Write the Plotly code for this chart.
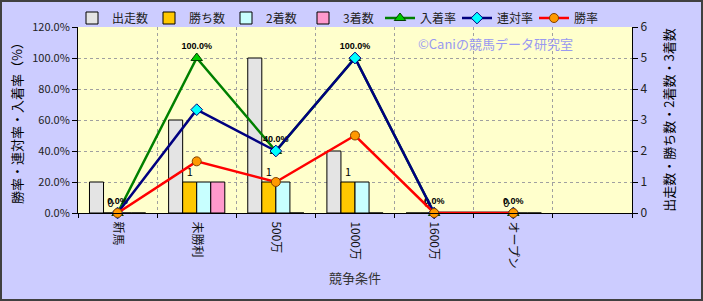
import plotly.graph_objects as go

categories = ["新馬", "未勝利", "500万", "1000万", "1600万", "オープン", ""]
starts = [1, 3, 5, 2, 0, 0, None]
wins = [0, 1, 1, 1, 0, 0, None]
seconds = [0, 1, 1, 1, 0, 0, None]
thirds = [0, 1, 0, 0, 0, 0, None]
place_rate = [0.0, 1.0, 0.4, 1.0, 0.0, 0.0, None]
quinella_rate = [0.0, 2/3, 0.4, 1.0, 0.0, 0.0, None]
win_rate = [0.0, 1/3, 0.2, 0.5, 0.0, 0.0, None]

xpos = list(range(len(categories)))
FONT = "Noto Sans CJK JP"

bar_line = dict(color="#000000", width=1)
fig = go.Figure()
fig.add_trace(go.Bar(name="出走数", x=xpos, y=starts, yaxis="y",
                     marker=dict(color="#E4E4E4", line=bar_line)))
fig.add_trace(go.Bar(name="勝ち数", x=xpos, y=wins, yaxis="y",
                     marker=dict(color="#FFC800", line=bar_line),
                     text=[None if v is None else str(v) for v in wins],
                     textposition="outside", cliponaxis=False,
                     textfont=dict(size=11, color="#000000", family=FONT)))
fig.add_trace(go.Bar(name="2着数", x=xpos, y=seconds, yaxis="y",
                     marker=dict(color="#C8FFFF", line=bar_line)))
fig.add_trace(go.Bar(name="3着数", x=xpos, y=thirds, yaxis="y",
                     marker=dict(color="#FF99CC", line=bar_line)))

fig.add_trace(go.Scatter(name="入着率", x=xpos, y=place_rate, yaxis="y2",
                         mode="lines+markers+text",
                         line=dict(color="#008000", width=2.5),
                         marker=dict(symbol="triangle-up", size=10, color="#00CC00",
                                     line=dict(color="#004000", width=1)),
                         texttemplate="%{y:.1%}", textposition="top center",
                         textfont=dict(size=9, color="#000000", family="Liberation Sans",
                                       weight="bold"),
                         cliponaxis=False))
fig.add_trace(go.Scatter(name="連対率", x=xpos, y=quinella_rate, yaxis="y2",
                         mode="lines+markers",
                         line=dict(color="#000080", width=2.5),
                         marker=dict(symbol="diamond", size=9, color="#00FFFF",
                                     line=dict(color="#000080", width=1)),
                         cliponaxis=False))
fig.add_trace(go.Scatter(name="勝率", x=xpos, y=win_rate, yaxis="y2",
                         mode="lines+markers",
                         line=dict(color="#FF0000", width=2.5),
                         marker=dict(symbol="circle", size=9, color="#FF9900",
                                     line=dict(color="#804000", width=1)),
                         cliponaxis=False))

fig.update_layout(
    width=703, height=301,
    margin=dict(l=78, r=71, t=27, b=88, autoexpand=False),
    paper_bgcolor="#CCCCFF", plot_bgcolor="#FFFFCC",
    font=dict(family=FONT, size=11, color="#222222"),
    barmode="group", bargap=0.29, bargroupgap=0,
    showlegend=True,
    legend=dict(orientation="h", xref="container", yref="container",
                x=72/703, y=1-18/301, xanchor="left", yanchor="middle",
                font=dict(size=12, color="#222222", family=FONT),
                bgcolor="rgba(0,0,0,0)", itemwidth=30, tracegroupgap=0,
                entrywidth=32, entrywidthmode="pixels"),
    xaxis=dict(range=[-0.5, 6.5], tickmode="array", tickvals=xpos[:6],
               ticktext=categories[:6], tickangle=90, showgrid=False,
               showline=True, linecolor="#000000", linewidth=1,
               ticks="", zeroline=False, ticklabelstandoff=5,
               tickfont=dict(size=12, color="#111111"),
               minor=dict(tick0=0.5, dtick=1, showgrid=True, gridcolor="#A0A0A0",
                          griddash="dot", gridwidth=1, ticks="outside",
                          ticklen=4, tickcolor="#000000"),
               title=dict(text="競争条件", standoff=6,
                          font=dict(size=13, color="#333333"))),
    yaxis=dict(side="right", range=[0, 6], dtick=1, showgrid=True,
               gridcolor="#A0A0A0", griddash="dot", gridwidth=1,
               showline=True, linecolor="#000000", linewidth=1,
               ticks="outside", ticklen=5, tickcolor="#000000", zeroline=False,
               tickfont=dict(size=12, color="#222222"),
               title=dict(text="出走数・勝ち数・2着数・3着数", standoff=18,
                          font=dict(size=13, color="#000000"))),
    yaxis2=dict(side="left", overlaying="y", range=[0, 1.2], dtick=0.2,
                tickformat=".1%", showgrid=False,
                showline=True, linecolor="#000000", linewidth=1,
                ticks="outside", ticklen=5, tickcolor="#000000", zeroline=False,
                tickfont=dict(size=11, color="#222222"),
                title=dict(text="勝率・連対率・入着率（%）", standoff=6,
                           font=dict(size=13, color="#000000"))),
    annotations=[dict(text="©Caniの競馬データ研究室", xref="paper", yref="paper",
                      x=0.753, y=0.909, xanchor="center", yanchor="middle",
                      showarrow=False,
                      font=dict(size=13, color="#9999F0", family=FONT))],
    shapes=[dict(type="rect", xref="paper", yref="paper",
                 x0=-77/554, x1=624/554, y0=-87/186, y1=212/186,
                 line=dict(color="#404040", width=2), fillcolor="rgba(0,0,0,0)",
                 layer="above")],
)

fig.write_html("out.html")
